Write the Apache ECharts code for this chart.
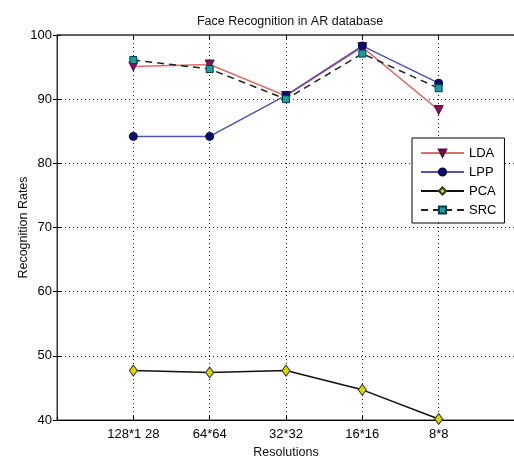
<!DOCTYPE html>
<html>
<head>
<meta charset="utf-8">
<script src="https://cdn.jsdelivr.net/npm/echarts@6/dist/echarts.min.js"></script>
<style>
html,body{margin:0;padding:0;background:#fff;}
#c{width:514px;height:458px;}
</style>
</head>
<body>
<div id="c"></div>
<script>
var categories = ['128*1 28', '64*64', '32*32', '16*16', '8*8'];
var yTicks = [40, 50, 60, 70, 80, 90, 100];
var LDA = [95.1, 95.4, 90.5, 98.1, 88.3];
var LPP = [84.2, 84.2, 90.6, 98.3, 92.5];
var PCA = [47.7, 47.4, 47.7, 44.7, 40.15];
var SRC = [96.1, 94.7, 90.0, 97.1, 91.7];

function pts(arr) { return arr.map(function (v, i) { return [i + 1, v]; }); }

var font = 'Liberation Sans, Arial, sans-serif';
var chart = echarts.init(document.getElementById('c'), null, {renderer: 'canvas'});
var gridSplit = {show: true, lineStyle: {color: '#222', type: [1, 3], width: 1}};
var tickIn = {show: true, inside: true, length: 4, lineStyle: {color: '#000'}};

chart.setOption({
  animation: false,
  backgroundColor: '#fff',
  title: {
    text: 'Face Recognition in AR database',
    left: 285, top: 10, textAlign: 'center',
    textStyle: {fontFamily: font, fontSize: 12.5, fontWeight: 'normal', color: '#111'}
  },
  grid: {left: 57, top: 35, width: 458, height: 385, show: true, borderColor: '#333', borderWidth: 1, backgroundColor: '#fff', outerBoundsMode: 'none', containLabel: false},
  legend: {
    left: 412, top: 138, orient: 'vertical',
    padding: [8, 8, 6, 8],
    itemWidth: 43, itemHeight: 9, itemGap: 5,
    borderColor: '#000', borderWidth: 1, backgroundColor: '#fff',
    textStyle: {fontFamily: font, fontSize: 13, color: '#000', lineHeight: 14},
    data: ['LDA', 'LPP', 'PCA', 'SRC']
  },
  xAxis: [{
    type: 'value', min: 0, max: 6, interval: 1,
    name: 'Resolutions', nameLocation: 'middle', nameGap: 22,
    nameTextStyle: {fontFamily: font, fontSize: 12.5, color: '#111'},
    axisLine: {show: true, lineStyle: {color: '#000', width: 1}},
    axisTick: tickIn,
    splitLine: gridSplit,
    axisLabel: {
      fontFamily: font, fontSize: 13, color: '#000', margin: 8,
      formatter: function (v) { return (v >= 1 && v <= categories.length) ? categories[v - 1] : ''; }
    }
  }, {
    type: 'value', position: 'top', min: 0, max: 6, interval: 1,
    axisLine: {show: true, lineStyle: {color: '#555', width: 1.5}},
    axisTick: tickIn, axisLabel: {show: false}, splitLine: {show: false}
  }],
  yAxis: [{
    type: 'value', min: 40, max: 100, interval: 10,
    name: 'Recognition Rates', nameLocation: 'middle', nameGap: 27, nameMoveOverlap: false,
    nameTextStyle: {fontFamily: font, fontSize: 12.5, color: '#111'},
    axisLine: {show: true, lineStyle: {color: '#000', width: 1}},
    axisTick: tickIn,
    splitLine: gridSplit,
    axisLabel: {
      fontFamily: font, fontSize: 13, color: '#000', margin: 5,
      formatter: function (v) { return yTicks.indexOf(v) >= 0 ? String(v) : ''; }
    }
  }, {
    type: 'value', position: 'right', min: 40, max: 100, interval: 10,
    axisLine: {show: true, lineStyle: {color: '#333'}},
    axisTick: tickIn, axisLabel: {show: false}, splitLine: {show: false}
  }],
  series: [{
    name: 'LDA', type: 'line', data: pts(LDA),
    symbol: 'triangle', symbolRotate: 180, symbolSize: 9,
    lineStyle: {color: '#d8706e', width: 1.5},
    itemStyle: {color: '#7a1656', borderColor: '#5a0a40', borderWidth: 1}
  }, {
    name: 'LPP', type: 'line', data: pts(LPP),
    symbol: 'circle', symbolSize: 8,
    lineStyle: {color: '#5252a8', width: 1.5},
    itemStyle: {color: '#0c0c6a', borderColor: '#0a0a50', borderWidth: 1}
  }, {
    name: 'PCA', type: 'line', data: pts(PCA),
    symbol: 'diamond', symbolSize: [8, 11],
    lineStyle: {color: '#111', width: 1.5},
    itemStyle: {color: '#d8d800', borderColor: '#333', borderWidth: 1}
  }, {
    name: 'SRC', type: 'line', data: pts(SRC),
    symbol: 'rect', symbolSize: 7,
    lineStyle: {color: '#222', width: 1.5, type: [7, 5]},
    itemStyle: {color: '#1aa0a0', borderColor: '#0a3a4a', borderWidth: 1}
  }]
});
</script>
</body>
</html>
